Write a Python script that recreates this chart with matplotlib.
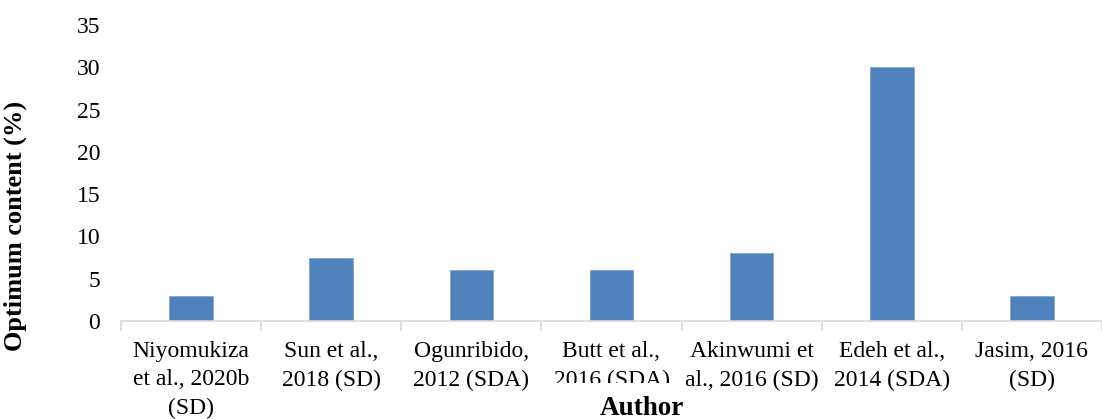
import matplotlib.pyplot as plt
from matplotlib.patches import Rectangle

authors = [
    "Niyomukiza\net al., 2020b\n(SD)",
    "Sun et al.,\n2018 (SD)",
    "Ogunribido,\n2012 (SDA)",
    "Butt et al.,\n2016 (SDA)",
    "Akinwumi et\nal., 2016 (SD)",
    "Edeh et al.,\n2014 (SDA)",
    "Jasim, 2016\n(SD)",
]
content = [3, 7.5, 6, 6, 8, 30, 3]
y_ticks = [0, 5, 10, 15, 20, 25, 30, 35]

plt.rcParams["font.family"] = ["Liberation Serif", "DejaVu Serif"]

W, H = 1102, 419
fig = plt.figure(figsize=(W / 100, H / 100), dpi=100)
ax = fig.add_axes([121 / W, 98 / H, (W - 121) / W, 296 / H])

x = list(range(len(authors)))
ax.bar(x, content, width=0.31, color="#4F81BD", edgecolor="#7FA3D1", linewidth=0.6)

ax.set_xlim(-0.5, -0.5 + (W - 121) / 141.7)
ax.set_ylim(0, 35)
ax.set_yticks(y_ticks)

for side in ["top", "right", "left"]:
    ax.spines[side].set_visible(False)
ax.spines["bottom"].set_color("#D9D9D9")
ax.spines["bottom"].set_linewidth(1.2)

ax.set_xticks(x)
ax.set_xticklabels(authors, fontsize=17, linespacing=1.45)
ax.set_xticks([i + 0.5 for i in range(-1, len(authors))], minor=True)
ax.tick_params(axis="x", which="major", length=0, pad=14.5)
ax.tick_params(axis="x", which="minor", length=7, color="#D9D9D9", width=1.2)
ax.tick_params(axis="y", length=0, pad=15, labelsize=17)

ax.set_ylabel("Optimum content (%)", fontsize=19, fontweight="bold")
ax.yaxis.set_label_coords(-0.0958, 0.321)

# the Author title box overlaps the bottom of one tick label
fig.patches.append(Rectangle((553 / W, 0), 128 / W, 36 / H,
                             transform=fig.transFigure, facecolor="white",
                             edgecolor="none", zorder=1))
fig.text(642 / W, 11 / H, "Author", fontsize=19.5, fontweight="bold",
         ha="center", va="center", zorder=3)

fig.savefig("out.png", dpi=100)
